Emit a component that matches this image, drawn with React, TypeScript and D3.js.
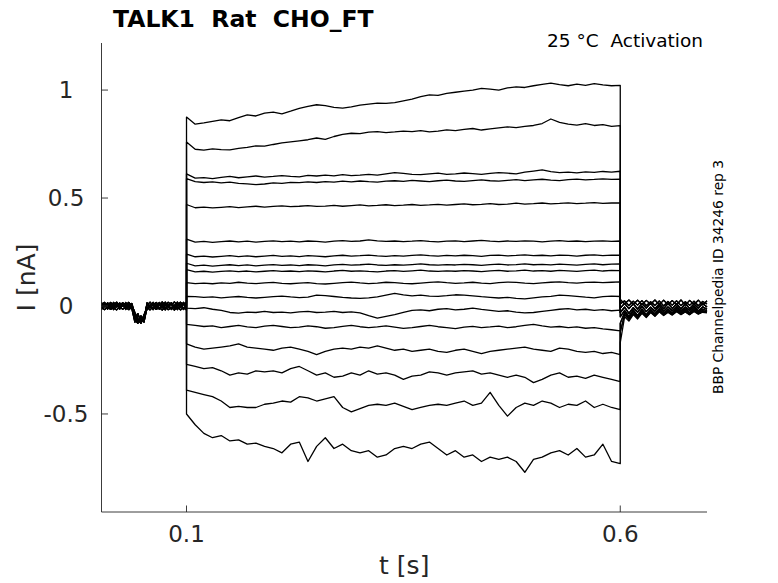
import * as d3 from 'd3';

// sweep timing [s]
const holdStart = 0.002;
const stepStart = 0.1;
const stepEnd = 0.6;
const sweepEnd = 0.7;

const yTicks = [-0.5, 0, 0.5, 1];
const yTickLabels = ['-0.5', '0', '0.5', '1'];
const xTicks = [0.1, 0.6];
const xTickLabels = ['0.1', '0.6'];

// holding current before the step (nA), a few overlapping sweeps
const pre0 = [0.016, -0.004, 0.015, -0.003, 0.017, -0.005, 0.014, -0.002, 0.016, -0.004, 0.012, -0.040, -0.072, -0.045, -0.070, 0.015, -0.004, 0.017, -0.003, 0.016, -0.005, 0.018, -0.002, 0.015, -0.004, 0.018, -0.003, 0.017, -0.004];
const pre1 = [-0.016, 0.006, -0.015, 0.005, -0.017, 0.007, -0.014, 0.004, -0.016, 0.006, -0.012, -0.075, -0.035, -0.078, -0.040, -0.016, 0.005, -0.017, 0.006, -0.015, 0.004, -0.018, 0.006, -0.016, 0.005, -0.017, 0.007, -0.016, 0.006];
const pre2 = [0.004, 0.017, 0.002, 0.016, 0.005, 0.018, 0.003, 0.015, 0.004, 0.017, 0.002, -0.030, -0.060, -0.080, -0.050, 0.004, 0.018, 0.002, 0.016, 0.005, 0.019, 0.003, 0.017, 0.004, 0.019, 0.002, 0.018, 0.005, 0.019];
const pre3 = [-0.006, -0.017, -0.004, -0.016, -0.007, -0.018, -0.005, -0.015, -0.006, -0.017, -0.004, -0.065, -0.080, -0.055, -0.075, -0.006, -0.018, -0.004, -0.016, -0.007, -0.019, -0.005, -0.017, -0.006, -0.019, -0.004, -0.018, -0.007, -0.019];
const pre4 = [0.000, 0.010, -0.008, 0.011, -0.007, 0.009, -0.009, 0.012, -0.006, 0.010, -0.008, -0.050, -0.068, -0.062, -0.058, 0.009, -0.008, 0.011, -0.007, 0.012, -0.009, 0.010, -0.006, 0.013, -0.008, 0.011, -0.007, 0.012, -0.009];
const pre5 = [-0.010, 0.002, 0.009, -0.011, 0.001, 0.010, -0.012, 0.003, 0.008, -0.010, 0.002, -0.058, -0.076, -0.070, -0.064, -0.011, 0.003, 0.010, -0.012, 0.002, 0.011, -0.010, 0.004, 0.012, -0.011, 0.003, 0.010, -0.012, 0.002];
const preSweeps = [pre0, pre1, pre2, pre3, pre4, pre5];

// current during the step (nA), one row per voltage
const step01 = [0.875, 0.842, 0.848, 0.855, 0.862, 0.858, 0.872, 0.885, 0.880, 0.893, 0.898, 0.890, 0.902, 0.915, 0.925, 0.932, 0.928, 0.920, 0.916, 0.922, 0.930, 0.935, 0.940, 0.938, 0.942, 0.950, 0.958, 0.970, 0.978, 0.975, 0.985, 0.990, 0.995, 1.000, 1.008, 1.004, 1.000, 1.010, 1.015, 1.012, 1.020, 1.026, 1.032, 1.025, 1.020, 1.028, 1.022, 1.030, 1.024, 1.020, 1.022];
const step02 = [0.760, 0.726, 0.722, 0.728, 0.724, 0.723, 0.730, 0.735, 0.742, 0.740, 0.748, 0.755, 0.760, 0.765, 0.770, 0.778, 0.772, 0.785, 0.795, 0.800, 0.798, 0.805, 0.808, 0.803, 0.806, 0.810, 0.808, 0.812, 0.806, 0.810, 0.816, 0.812, 0.818, 0.822, 0.815, 0.820, 0.825, 0.830, 0.826, 0.832, 0.836, 0.845, 0.866, 0.850, 0.842, 0.838, 0.845, 0.836, 0.840, 0.832, 0.835];
const step03 = [0.612, 0.592, 0.595, 0.590, 0.596, 0.600, 0.594, 0.598, 0.602, 0.597, 0.600, 0.604, 0.600, 0.598, 0.605, 0.602, 0.606, 0.603, 0.608, 0.604, 0.606, 0.610, 0.606, 0.612, 0.618, 0.614, 0.610, 0.608, 0.612, 0.615, 0.610, 0.612, 0.616, 0.613, 0.610, 0.614, 0.618, 0.615, 0.612, 0.620, 0.625, 0.630, 0.622, 0.618, 0.620, 0.617, 0.621, 0.619, 0.623, 0.620, 0.624];
const step04 = [0.590, 0.576, 0.572, 0.575, 0.570, 0.574, 0.568, 0.566, 0.562, 0.565, 0.570, 0.568, 0.573, 0.571, 0.575, 0.572, 0.576, 0.574, 0.578, 0.575, 0.579, 0.576, 0.574, 0.578, 0.580, 0.577, 0.582, 0.579, 0.576, 0.580, 0.583, 0.579, 0.577, 0.581, 0.584, 0.580, 0.578, 0.582, 0.585, 0.581, 0.584, 0.587, 0.583, 0.581, 0.585, 0.588, 0.584, 0.586, 0.589, 0.586, 0.588];
const step05 = [0.470, 0.455, 0.458, 0.454, 0.457, 0.460, 0.456, 0.459, 0.462, 0.458, 0.461, 0.464, 0.460, 0.462, 0.465, 0.461, 0.463, 0.466, 0.462, 0.465, 0.468, 0.464, 0.466, 0.469, 0.465, 0.467, 0.470, 0.466, 0.468, 0.471, 0.467, 0.470, 0.473, 0.469, 0.471, 0.474, 0.470, 0.472, 0.476, 0.472, 0.474, 0.477, 0.473, 0.475, 0.478, 0.474, 0.476, 0.479, 0.475, 0.477, 0.478];
const step06 = [0.310, 0.296, 0.299, 0.295, 0.298, 0.301, 0.297, 0.300, 0.296, 0.299, 0.302, 0.298, 0.300, 0.297, 0.301, 0.299, 0.296, 0.300, 0.303, 0.299, 0.301, 0.306, 0.302, 0.299, 0.301, 0.298, 0.300, 0.303, 0.299, 0.297, 0.300, 0.302, 0.298, 0.301, 0.304, 0.300, 0.298, 0.301, 0.299, 0.302, 0.300, 0.297, 0.300, 0.303, 0.299, 0.301, 0.298, 0.300, 0.302, 0.299, 0.301];
const step07 = [0.240, 0.228, 0.231, 0.227, 0.230, 0.233, 0.229, 0.232, 0.228, 0.231, 0.234, 0.230, 0.232, 0.229, 0.233, 0.231, 0.228, 0.232, 0.235, 0.231, 0.233, 0.236, 0.232, 0.230, 0.233, 0.231, 0.234, 0.237, 0.233, 0.231, 0.234, 0.232, 0.235, 0.233, 0.230, 0.234, 0.236, 0.232, 0.234, 0.237, 0.233, 0.235, 0.232, 0.236, 0.234, 0.231, 0.235, 0.237, 0.233, 0.236, 0.235];
const step08 = [0.198, 0.186, 0.189, 0.185, 0.188, 0.191, 0.187, 0.190, 0.186, 0.189, 0.192, 0.188, 0.190, 0.187, 0.191, 0.189, 0.186, 0.190, 0.193, 0.189, 0.191, 0.194, 0.190, 0.188, 0.191, 0.189, 0.192, 0.195, 0.191, 0.189, 0.192, 0.190, 0.193, 0.191, 0.188, 0.192, 0.194, 0.190, 0.192, 0.195, 0.191, 0.193, 0.190, 0.194, 0.192, 0.189, 0.193, 0.195, 0.191, 0.194, 0.195];
const step09 = [0.168, 0.158, 0.161, 0.157, 0.160, 0.163, 0.159, 0.162, 0.158, 0.161, 0.164, 0.160, 0.162, 0.159, 0.163, 0.161, 0.158, 0.162, 0.165, 0.161, 0.163, 0.160, 0.158, 0.162, 0.164, 0.160, 0.163, 0.166, 0.162, 0.160, 0.163, 0.161, 0.164, 0.162, 0.159, 0.163, 0.165, 0.161, 0.163, 0.166, 0.162, 0.164, 0.161, 0.165, 0.163, 0.160, 0.164, 0.166, 0.162, 0.165, 0.164];
const step10 = [0.108, 0.104, 0.106, 0.103, 0.107, 0.105, 0.110, 0.106, 0.104, 0.107, 0.109, 0.105, 0.103, 0.106, 0.108, 0.104, 0.102, 0.105, 0.108, 0.111, 0.107, 0.104, 0.106, 0.110, 0.108, 0.105, 0.103, 0.106, 0.109, 0.112, 0.108, 0.105, 0.107, 0.110, 0.106, 0.104, 0.108, 0.111, 0.109, 0.106, 0.104, 0.107, 0.110, 0.112, 0.108, 0.106, 0.109, 0.111, 0.108, 0.110, 0.112];
const step11 = [0.045, 0.043, 0.040, 0.042, 0.038, 0.041, 0.044, 0.040, 0.037, 0.040, 0.043, 0.046, 0.042, 0.039, 0.041, 0.050, 0.048, 0.044, 0.040, 0.037, 0.035, 0.038, 0.042, 0.050, 0.058, 0.052, 0.047, 0.050, 0.046, 0.045, 0.048, 0.052, 0.050, 0.047, 0.043, 0.040, 0.037, 0.040, 0.035, 0.033, 0.038, 0.042, 0.045, 0.050, 0.048, 0.045, 0.041, 0.038, 0.043, 0.046, 0.044];
const step12 = [-0.010, -0.012, -0.008, -0.015, -0.020, -0.030, -0.033, -0.028, -0.030, -0.025, -0.030, -0.028, -0.032, -0.027, -0.025, -0.030, -0.028, -0.025, -0.030, -0.027, -0.032, -0.045, -0.056, -0.048, -0.040, -0.030, -0.020, -0.018, -0.022, -0.015, -0.012, -0.018, -0.015, -0.010, -0.016, -0.020, -0.025, -0.022, -0.028, -0.032, -0.030, -0.025, -0.020, -0.015, -0.012, -0.018, -0.015, -0.020, -0.017, -0.022, -0.019];
const step13 = [-0.085, -0.090, -0.095, -0.092, -0.100, -0.095, -0.090, -0.097, -0.100, -0.093, -0.090, -0.095, -0.100, -0.098, -0.092, -0.096, -0.103, -0.100, -0.094, -0.090, -0.096, -0.100, -0.097, -0.092, -0.098, -0.104, -0.100, -0.095, -0.090, -0.096, -0.100, -0.105, -0.098, -0.094, -0.100, -0.097, -0.093, -0.100, -0.096, -0.090, -0.085, -0.092, -0.098, -0.095, -0.100, -0.097, -0.103, -0.100, -0.106, -0.110, -0.115];
const step14 = [-0.175, -0.190, -0.200, -0.195, -0.190, -0.185, -0.175, -0.190, -0.195, -0.200, -0.205, -0.195, -0.190, -0.200, -0.210, -0.225, -0.210, -0.200, -0.195, -0.200, -0.190, -0.195, -0.185, -0.195, -0.205, -0.200, -0.210, -0.205, -0.200, -0.210, -0.215, -0.205, -0.200, -0.210, -0.220, -0.210, -0.205, -0.200, -0.195, -0.190, -0.200, -0.205, -0.210, -0.195, -0.200, -0.210, -0.215, -0.210, -0.220, -0.215, -0.225];
const step15 = [-0.270, -0.280, -0.290, -0.285, -0.300, -0.320, -0.310, -0.315, -0.300, -0.305, -0.300, -0.310, -0.290, -0.280, -0.300, -0.320, -0.310, -0.330, -0.325, -0.310, -0.320, -0.300, -0.315, -0.310, -0.320, -0.340, -0.325, -0.320, -0.305, -0.310, -0.320, -0.310, -0.305, -0.300, -0.315, -0.310, -0.320, -0.330, -0.320, -0.330, -0.355, -0.340, -0.320, -0.310, -0.330, -0.325, -0.335, -0.320, -0.330, -0.340, -0.350];
const step16 = [-0.390, -0.400, -0.410, -0.420, -0.440, -0.470, -0.465, -0.470, -0.470, -0.455, -0.450, -0.440, -0.445, -0.420, -0.425, -0.440, -0.430, -0.420, -0.470, -0.490, -0.475, -0.460, -0.455, -0.460, -0.450, -0.465, -0.480, -0.470, -0.460, -0.455, -0.460, -0.450, -0.440, -0.460, -0.450, -0.400, -0.460, -0.510, -0.470, -0.450, -0.460, -0.440, -0.450, -0.470, -0.455, -0.460, -0.440, -0.470, -0.455, -0.470, -0.480];
const step17 = [-0.500, -0.550, -0.590, -0.610, -0.600, -0.625, -0.620, -0.640, -0.635, -0.650, -0.660, -0.680, -0.640, -0.630, -0.720, -0.650, -0.610, -0.660, -0.640, -0.670, -0.680, -0.670, -0.700, -0.690, -0.660, -0.650, -0.660, -0.640, -0.630, -0.660, -0.690, -0.670, -0.700, -0.690, -0.720, -0.700, -0.710, -0.700, -0.720, -0.770, -0.710, -0.700, -0.680, -0.670, -0.690, -0.660, -0.700, -0.690, -0.640, -0.720, -0.730];
const stepSweeps = [step01, step02, step03, step04, step05, step06, step07, step08, step09, step10, step11, step12, step13, step14, step15, step16, step17];

// current after the step (nA)
const tail0 = [0.030, 0.010, 0.028, 0.008, 0.027, 0.006, 0.026, 0.008, 0.028, 0.005, 0.027, 0.007, 0.025, 0.006, 0.028, 0.004, 0.026, 0.007, 0.027, 0.005, 0.024];
const tail1 = [0.010, 0.024, 0.002, 0.022, 0.004, 0.025, 0.001, 0.020, 0.003, 0.023, 0.000, 0.021, 0.004, 0.024, 0.002, 0.020, 0.003, 0.022, 0.001, 0.021, 0.010];
const tail2 = [-0.010, 0.012, -0.012, 0.010, -0.014, 0.011, -0.010, 0.013, -0.012, 0.009, -0.013, 0.012, -0.011, 0.010, -0.014, 0.011, -0.012, 0.009, -0.010, 0.012, -0.005];
const tail3 = [-0.030, -0.005, -0.034, -0.008, -0.028, -0.002, -0.026, -0.006, -0.024, 0.000, -0.025, -0.004, -0.022, -0.002, -0.024, -0.005, -0.021, -0.001, -0.023, -0.004, -0.015];
const tail4 = [-0.050, -0.020, -0.048, -0.018, -0.044, -0.014, -0.040, -0.016, -0.036, -0.012, -0.034, -0.014, -0.032, -0.010, -0.030, -0.013, -0.031, -0.011, -0.029, -0.014, -0.022];
const tail5 = [-0.080, -0.030, -0.055, -0.025, -0.050, -0.022, -0.046, -0.020, -0.042, -0.018, -0.038, -0.021, -0.036, -0.017, -0.034, -0.020, -0.035, -0.018, -0.033, -0.021, -0.028];
const tail6 = [-0.120, -0.040, -0.062, -0.035, -0.056, -0.030, -0.050, -0.028, -0.045, -0.024, -0.042, -0.026, -0.040, -0.022, -0.038, -0.025, -0.039, -0.023, -0.036, -0.026, -0.030];
const tail7 = [-0.170, -0.050, -0.070, -0.040, -0.060, -0.034, -0.054, -0.030, -0.048, -0.027, -0.044, -0.030, -0.042, -0.026, -0.040, -0.028, -0.041, -0.025, -0.038, -0.029, -0.032];
const tailSweeps = [tail0, tail1, tail2, tail3, tail4, tail5, tail6, tail7];
const tailOf = [0, 0, 1, 1, 2, 2, 2, 3, 3, 3, 4, 4, 5, 5, 6, 6, 7];

const W = 778;
const H = 583;
const font = '"DejaVu Sans", Verdana, sans-serif';
const ink = '#262626';

// spread samples evenly over [t0, t1]
function stamp(vals: number[], t0: number, t1: number): [number, number][] {
  const n = vals.length;
  return vals.map((v, i) => [t0 + (i * (t1 - t0)) / (n - 1), v]);
}

export default function App() {
  const x = d3.scaleLinear().domain([holdStart, sweepEnd]).range([101.5, 707]);
  const y = d3.scaleLinear().domain([-0.954, 1.218]).range([512, 43]);
  const line = d3
    .line<[number, number]>()
    .x(d => x(d[0]))
    .y(d => y(d[1]));

  const sweeps = stepSweeps.map((s, i) => [
    ...stamp(preSweeps[i % preSweeps.length], holdStart, stepStart),
    ...stamp(s, stepStart, stepEnd),
    ...stamp(tailSweeps[tailOf[i]], stepEnd, sweepEnd),
  ]);

  const [x0, x1] = x.range();
  const [y0, y1] = y.range();

  return (
    <svg
      width={W}
      height={H}
      style={{ position: 'absolute', left: 0, top: 0, background: '#fff' }}
      fontFamily={font}
    >
      <rect width={W} height={H} fill="#fff" />

      {/* traces */}
      <g fill="none" stroke="#000" strokeWidth={1.3} strokeLinejoin="round">
        {sweeps.map((d, i) => (
          <path key={i} d={line(d) ?? ''} />
        ))}
      </g>

      {/* axes */}
      <g stroke={ink} strokeWidth={0.9} fill="none">
        <line x1={x0} x2={x0} y1={y1} y2={y0} />
        <line x1={x0} x2={x1} y1={y0} y2={y0} />
        {yTicks.map(t => (
          <line key={'yt' + t} x1={x0} x2={x0 + 6.5} y1={y(t)} y2={y(t)} />
        ))}
        {xTicks.map(t => (
          <line key={'xt' + t} x1={x(t)} x2={x(t)} y1={y0} y2={y0 - 6.5} />
        ))}
      </g>

      <g fill={ink} fontSize={23}>
        {yTicks.map((t, i) => (
          <text key={'yl' + t} x={66} y={y(t) + 8.3} textAnchor="middle">
            {yTickLabels[i]}
          </text>
        ))}
        {xTicks.map((t, i) => (
          <text key={'xl' + t} x={x(t)} y={542} textAnchor="middle">
            {xTickLabels[i]}
          </text>
        ))}
      </g>

      {/* labels */}
      <text x={(x0 + x1) / 2} y={574} textAnchor="middle" fontSize={25} fill={ink}>
        t [s]
      </text>
      <text
        transform={`translate(35,${(y0 + y1) / 2}) rotate(-90)`}
        textAnchor="middle"
        fontSize={25}
        fill={ink}
      >
        I [nA]
      </text>

      <text x={113} y={27} fontSize={23.5} fontWeight="bold" fill="#000" style={{ whiteSpace: 'pre' }}>
        TALK1  Rat  CHO_FT
      </text>
      <text x={703} y={47} textAnchor="end" fontSize={18.5} fill="#000" style={{ whiteSpace: 'pre' }}>
        25 °C  Activation
      </text>
      <text
        transform="translate(723,277) rotate(-90)"
        textAnchor="middle"
        fontSize={13.8}
        fill="#000"
      >
        BBP Channelpedia ID 34246 rep 3
      </text>
    </svg>
  );
}
